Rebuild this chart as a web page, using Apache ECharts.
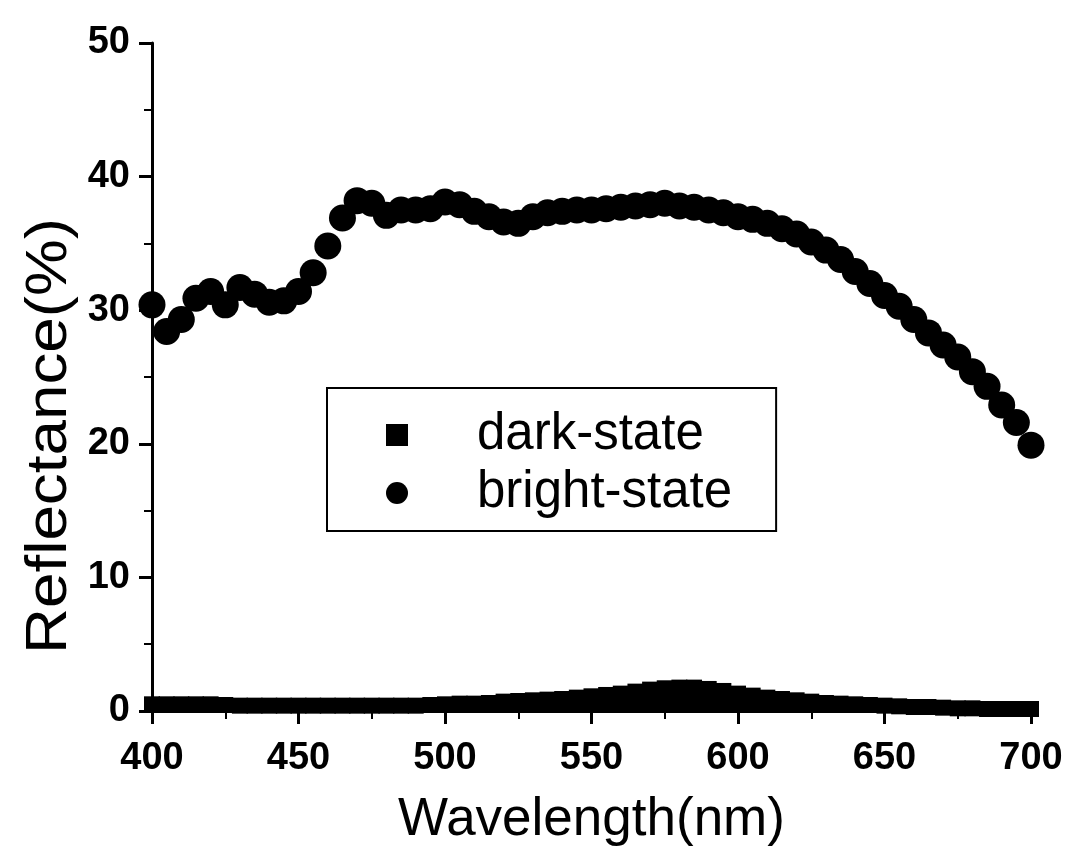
<!DOCTYPE html>
<html>
<head>
<meta charset="utf-8">
<script src="https://cdn.jsdelivr.net/npm/echarts@6/dist/echarts.min.js"></script>
<style>
  html, body { margin: 0; padding: 0; background: #fff; }
  #chart { width: 1067px; height: 856px; }
</style>
</head>
<body>
<div id="chart"></div>
<script>
// wavelength grid (nm)
const wavelengths = [
  400, 405, 410, 415, 420, 425, 430, 435, 440, 445,
  450, 455, 460, 465, 470, 475, 480, 485, 490, 495,
  500, 505, 510, 515, 520, 525, 530, 535, 540, 545,
  550, 555, 560, 565, 570, 575, 580, 585, 590, 595,
  600, 605, 610, 615, 620, 625, 630, 635, 640, 645,
  650, 655, 660, 665, 670, 675, 680, 685, 690, 695, 700
]

// reflectance (%)
const brightState = [
  30.4, 28.4, 29.3, 30.9, 31.4, 30.4, 31.7, 31.2, 30.6, 30.7,
  31.4, 32.8, 34.8, 36.9, 38.2, 38.0, 37.1, 37.5, 37.5, 37.6,
  38.1, 37.9, 37.4, 37.0, 36.6, 36.5, 37.0, 37.3, 37.4, 37.5,
  37.5, 37.6, 37.7, 37.8, 37.9, 38.0, 37.8, 37.7, 37.5, 37.3,
  37.0, 36.8, 36.5, 36.1, 35.7, 35.1, 34.5, 33.8, 32.9, 32.0,
  31.1, 30.3, 29.3, 28.3, 27.4, 26.5, 25.4, 24.3, 22.9, 21.6, 19.9
]

const darkState = [
  0.5, 0.5, 0.5, 0.5, 0.5, 0.45, 0.4, 0.4, 0.4, 0.4,
  0.4, 0.4, 0.4, 0.4, 0.4, 0.4, 0.4, 0.4, 0.4, 0.45,
  0.5, 0.55, 0.55, 0.6, 0.7, 0.75, 0.8, 0.85, 0.9, 1.0,
  1.1, 1.2, 1.3, 1.45, 1.6, 1.7, 1.75, 1.75, 1.65, 1.5,
  1.3, 1.15, 1.0, 0.9, 0.8, 0.7, 0.6, 0.55, 0.5, 0.45,
  0.4, 0.35, 0.3, 0.3, 0.25, 0.2, 0.2, 0.15, 0.15, 0.15, 0.15
]

const xTicks = [400, 450, 500, 550, 600, 650, 700]
const yTicks = [0, 10, 20, 30, 40, 50]

const FONT = '"Liberation Sans", Arial, sans-serif'

const pairs = (xs, ys) => xs.map((x, i) => [x, ys[i]])

const chart = echarts.init(document.getElementById('chart'), null, { renderer: 'canvas' })

const axisCommon = {
  axisLine: { show: true, lineStyle: { color: '#000', width: 3 } },
  axisTick: { show: true, inside: false, length: 13, lineStyle: { color: '#000', width: 3 } },
  minorTick: { show: true, splitNumber: 2, length: 8, lineStyle: { color: '#000', width: 2 } },
  splitLine: { show: false },
  axisLabel: { color: '#000', fontFamily: FONT, fontSize: 38, fontWeight: 'bold' }
}

chart.setOption({
  backgroundColor: '#fff',
  animation: false,
  grid: { left: 152, right: 36, top: 43, bottom: 145 },
  xAxis: {
    ...axisCommon,
    type: 'value',
    min: xTicks[0],
    max: xTicks[xTicks.length - 1],
    interval: 50,
    name: 'Wavelength(nm)',
    nameLocation: 'middle',
    nameGap: 83,
    nameTextStyle: { color: '#000', fontFamily: FONT, fontSize: 53 },
    axisLabel: { ...axisCommon.axisLabel, margin: 29 }
  },
  yAxis: {
    ...axisCommon,
    type: 'value',
    min: yTicks[0],
    max: yTicks[yTicks.length - 1],
    interval: 10,
    axisLabel: { ...axisCommon.axisLabel, margin: 22 }
  },
  graphic: [
    {
      type: 'text',
      x: 50,
      y: 436,
      rotation: Math.PI / 2,
      scaleX: 1.1,
      style: {
        text: 'Reflectance(%)',
        font: '58px ' + FONT,
        fill: '#000',
        align: 'center',
        verticalAlign: 'middle'
      }
    }
  ],
  legend: {
    orient: 'vertical',
    left: 327,
    top: 388,
    padding: [21, 44, 12, 59],
    itemWidth: 22,
    itemHeight: 22,
    itemGap: 6,
    borderColor: '#000',
    borderWidth: 2,
    borderRadius: 0,
    textStyle: { color: '#000', fontFamily: FONT, fontSize: 51, lineHeight: 52, padding: [0, 0, 0, 64] },
    data: [
      { name: 'dark-state', icon: 'rect' },
      { name: 'bright-state', icon: 'circle' }
    ]
  },
  series: [
    {
      name: 'dark-state',
      type: 'line',
      data: pairs(wavelengths, darkState),
      symbol: 'rect',
      symbolSize: 16,
      showAllSymbol: true,
      clip: false,
      itemStyle: { color: '#000', opacity: 1 },
      lineStyle: { color: '#000', width: 4 },
      areaStyle: { color: '#000', opacity: 1 },
      z: 2
    },
    {
      name: 'bright-state',
      type: 'scatter',
      data: pairs(wavelengths, brightState),
      symbol: 'circle',
      symbolSize: 27,
      clip: false,
      itemStyle: { color: '#000', opacity: 1 },
      z: 3
    }
  ]
})
</script>
</body>
</html>
